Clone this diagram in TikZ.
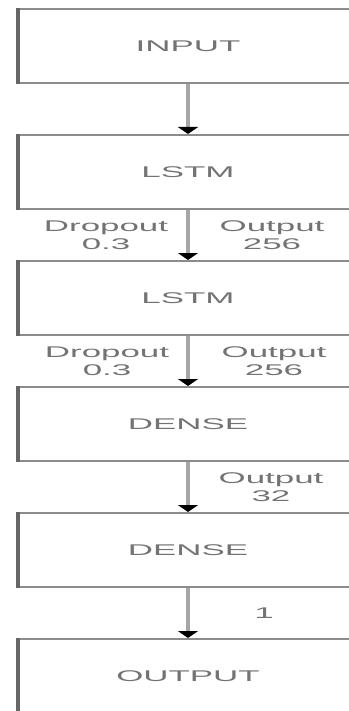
\documentclass[tikz,border=0pt]{standalone}
\usepackage{fontspec}
\setmainfont{Liberation Sans}[FakeStretch=2.25]
\usetikzlibrary{arrows.meta,positioning}
\tikzset{
	layer/.style={draw=black!45, line width=2pt, fill=white, minimum width=342pt,
		minimum height=74pt, inner sep=0pt, text=black!55,
		font=\fontsize{15.5}{18}\selectfont},
	leftedge/.style={draw=black!60, line width=4pt},
	flow/.style={draw=black!35, line width=4pt,
		-{Triangle[width=20pt,length=7pt,color=black]}},
	lbl/.style={align=center, text=black!55, inner sep=0pt,
		font=\fontsize{15.5}{18}\selectfont},
}

\begin{document}
\begin{tikzpicture}[x=1pt, y=1pt, node distance=50pt]
	\useasboundingbox (0,0) rectangle (348,-711);
	% layers
	\node[layer] at (188,-46) (inp) {INPUT};
	\node[layer, below=of inp] (ls1) {LSTM};
	\node[layer, below=of ls1] (ls2) {LSTM};
	\node[layer, below=of ls2] (de1) {DENSE};
	\node[layer, below=of de1] (de2) {DENSE};
	\node[layer, below=of de2] (out) {OUTPUT};
	\foreach \n in {inp,ls1,ls2,de1,de2,out}
		\draw[leftedge] ([xshift=2pt]\n.north west) -- ([xshift=2pt]\n.south west);
	% connections
	\draw[flow] (inp) -- (ls1);
	\draw[flow] (ls1) -- (ls2)
		node[lbl, midway, xshift=-82pt] {Dropout\\0.3}
		node[lbl, midway, xshift=84pt] {Output\\256};
	\draw[flow] (ls2) -- (de1)
		node[lbl, midway, xshift=-81pt] {Dropout\\0.3}
		node[lbl, midway, xshift=86pt] {Output\\256};
	\draw[flow] (de1) -- (de2)
		node[lbl, midway, xshift=83pt] {Output\\32};
	\draw[flow] (de2) -- (out)
		node[lbl, midway, xshift=76pt] {1};
\end{tikzpicture}
\end{document}
